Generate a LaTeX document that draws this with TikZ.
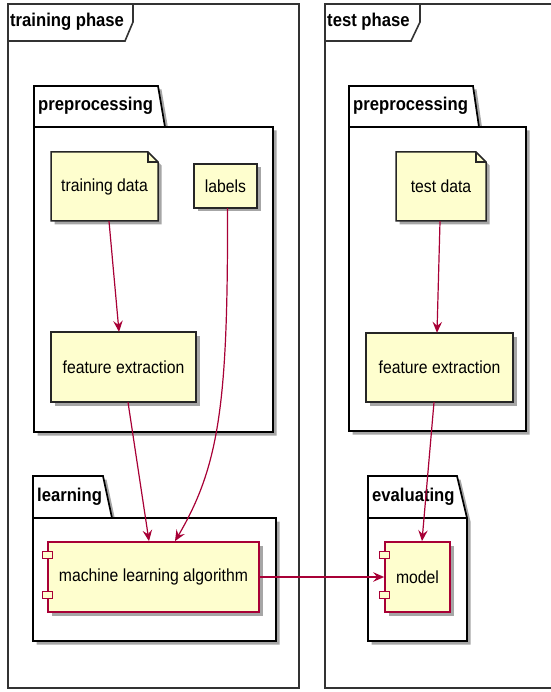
\documentclass[tikz,border=0pt]{standalone}
\usepackage{fontspec}
\setmainfont{Liberation Sans}[FakeStretch=0.9]
\usetikzlibrary{shadows,arrows.meta}
\definecolor{umlfill}{HTML}{FEFECE}
\definecolor{umlred}{HTML}{A80036}

\begin{document}
\begin{tikzpicture}[x=1pt,y=-1pt,
  softshadow/.style={drop shadow={shadow xshift=3.5pt,shadow yshift=-3.5pt,opacity=0.35,fill=black}},
  frameline/.style={draw=black!80,line width=1.6pt},
  pkg/.style={draw=black,line width=1.7pt,fill=white,softshadow},
  pkgline/.style={draw=black,line width=1.7pt},
  pkgtitle/.style={anchor=west,inner sep=0pt,font=\fontsize{18.5}{20}\selectfont\bfseries},
  notebox/.style={draw=black!85,line width=1.5pt,fill=umlfill,softshadow},
  noteline/.style={draw=black!85,line width=1.5pt},
  txt/.style={inner sep=0pt,font=\fontsize{17.5}{19}\selectfont},
  comp/.style={txt,draw=umlred,line width=1.7pt,fill=umlfill,softshadow},
  port/.style={draw=umlred,line width=1.3pt,fill=umlfill},
  flow/.style={draw=umlred,line width=1.2pt,-{Stealth[length=11pt,width=9.5pt,inset=4pt]}},
]
\useasboundingbox (0,0) rectangle (550,692);
\fill[white] (0,0) rectangle (550,692);

% outer frames
\draw[frameline] (8,4) rectangle (299,688);
\draw[frameline] (8,41) -- (125,41) -- (133,22) -- (133,4);
\node[pkgtitle] (trainT) at (10,22) {training phase};

\draw[frameline] (325,4) rectangle (556,688);
\draw[frameline] (325,41) -- (411,41) -- (420,22) -- (420,4);
\node[pkgtitle] (testT) at (327,22) {test phase};

% packages, training side
\path[pkg] (34,86) -- (158,86) -- (165,127) -- (273,127) -- (273,432) -- (34,432) -- cycle;
\draw[pkgline] (34,127) -- (165,127);
\node[pkgtitle] (preL) at (38,106) {preprocessing};

\path[pkg] (33,476) -- (103,476) -- (112,518) -- (276,518) -- (276,641) -- (33,641) -- cycle;
\draw[pkgline] (33,518) -- (112,518);
\node[pkgtitle] (learnT) at (37,497) {learning};

% packages, test side
\path[pkg] (349,86) -- (473,86) -- (479,127) -- (526,127) -- (526,431) -- (349,431) -- cycle;
\draw[pkgline] (349,127) -- (479,127);
\node[pkgtitle] (preR) at (353,106) {preprocessing};

\path[pkg] (368,476) -- (457,476) -- (467,518) -- (467,641) -- (368,641) -- cycle;
\draw[pkgline] (368,518) -- (467,518);
\node[pkgtitle] (evalT) at (372,497) {evaluating};

% notes
\path[notebox] (51,152) -- (148,152) -- (158,162) -- (158,221) -- (51,221) -- cycle;
\draw[noteline] (148,152) |- (158,162);
\node[txt,minimum width=107pt,minimum height=69pt] (td) at (104.5,186.5) {training data};

\path[notebox] (194,164) rectangle (257,208);
\node[txt,minimum width=63pt,minimum height=44pt] (lab) at (225.5,186) {labels};

\path[notebox] (396,152) -- (476,152) -- (486,162) -- (486,221) -- (396,221) -- cycle;
\draw[noteline] (476,152) |- (486,162);
\node[txt,minimum width=90pt,minimum height=69pt] (tsd) at (441,186.5) {test data};

% feature extraction boxes
\path[notebox] (51,332) rectangle (196,402);
\node[txt,minimum width=145pt,minimum height=70pt] (feL) at (123.5,367) {feature extraction};

\path[notebox] (366,333) rectangle (513,402);
\node[txt,minimum width=147pt,minimum height=69pt] (feR) at (439.5,367.5) {feature extraction};

% components
\node[comp,minimum width=211pt,minimum height=70pt] (mla) at (153.5,577) {machine learning algorithm};
\draw[port] ([xshift=-5pt,yshift=-10pt]mla.north west) rectangle ++(10,7);
\draw[port] ([xshift=-5pt,yshift=-50pt]mla.north west) rectangle ++(10,7);

\node[comp,minimum width=65pt,minimum height=70pt] (mdl) at (417.5,577) {model};
\draw[port] ([xshift=-5pt,yshift=-10pt]mdl.north west) rectangle ++(10,7);
\draw[port] ([xshift=-5pt,yshift=-50pt]mdl.north west) rectangle ++(10,7);

% connectors
\draw[flow] ([xshift=4.5pt]td.south) -- ([xshift=-4.5pt]feL.north);
\draw[flow] ([xshift=2pt]lab.south) .. controls (228,400) and (220,465) .. ([xshift=21.5pt]mla.north);
\draw[flow] ([xshift=4.5pt]feL.south) -- ([xshift=-4.5pt]mla.north);
\draw[flow] ([xshift=-1pt]tsd.south) -- ([xshift=-2.5pt]feR.north);
\draw[flow] ([xshift=-5.5pt]feR.south) -- ([xshift=4.5pt]mdl.north);
\draw[flow,line width=1.6pt] (mla.east) -- (mdl.west);
\end{tikzpicture}
\end{document}
